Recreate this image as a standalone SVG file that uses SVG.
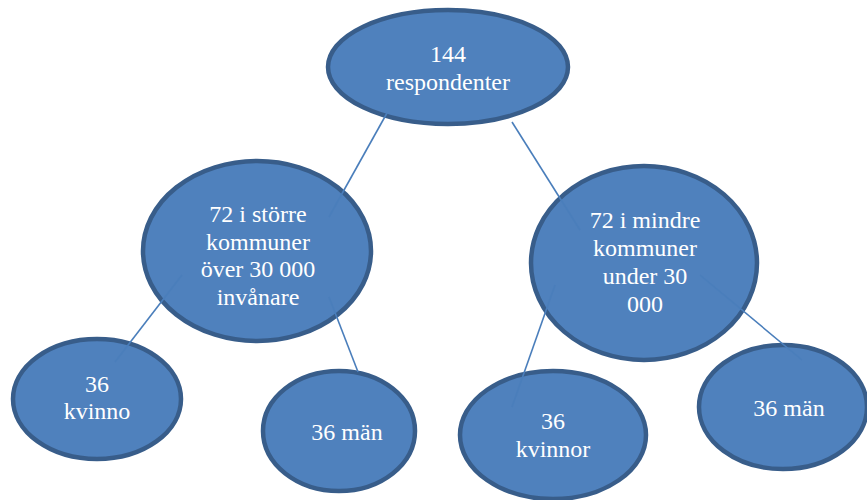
<svg xmlns="http://www.w3.org/2000/svg" width="867" height="500" viewBox="0 0 867 500">
<defs>
<style>
ellipse{fill:#4f81bd;stroke:#385d8a;stroke-width:4.5}
line{stroke:#4a7ebb;stroke-width:1.6}
</style>
</defs>
<rect width="867" height="500" fill="#ffffff"/>
<g fill="#ffffff" text-anchor="middle">
<g id="n-top"><ellipse cx="448" cy="67" rx="120" ry="57"/><text font-family="Liberation Serif" font-size="24" x="448" y="62">144</text><text font-family="Liberation Serif" font-size="24" x="448" y="90">respondenter</text></g>
<g id="n-large"><ellipse cx="257" cy="251" rx="114" ry="90"/><text font-family="Liberation Serif" font-size="24" x="258" y="222">72 i större</text><text font-family="Liberation Serif" font-size="24" x="258" y="250">kommuner</text><text font-family="Liberation Serif" font-size="24" x="258" y="277">över 30 000</text><text font-family="Liberation Serif" font-size="24" x="258" y="305">invånare</text></g>
<g id="n-small"><ellipse cx="644" cy="263" rx="113" ry="97"/><text font-family="Liberation Serif" font-size="24" x="645" y="228">72 i mindre</text><text font-family="Liberation Serif" font-size="24" x="645" y="256">kommuner</text><text font-family="Liberation Serif" font-size="24" x="645" y="284">under 30</text><text font-family="Liberation Serif" font-size="24" x="645" y="312">000</text></g>
<g id="n-kvinno"><ellipse cx="97" cy="399" rx="84" ry="60"/><text font-family="Liberation Serif" font-size="24" x="97" y="392">36</text><text font-family="Liberation Serif" font-size="24" x="97" y="419">kvinno</text></g>
<g id="n-man1"><ellipse cx="339" cy="431" rx="76" ry="60"/><text font-family="Liberation Serif" font-size="24" x="347" y="440">36 män</text></g>
<g id="n-kvinnor"><ellipse cx="553" cy="435" rx="93" ry="64"/><text font-family="Liberation Serif" font-size="24" x="553" y="429">36</text><text font-family="Liberation Serif" font-size="24" x="553" y="457">kvinnor</text></g>
<g id="n-man2"><ellipse cx="783" cy="407" rx="84" ry="62"/><text font-family="Liberation Serif" font-size="24" x="789" y="416">36 män</text></g>
</g>
<g id="connectors">
<line x1="387" y1="113" x2="329" y2="217"/>
<line x1="512" y1="122" x2="580" y2="230"/>
<line x1="182" y1="275" x2="115" y2="362"/>
<line x1="329" y1="297" x2="358" y2="372"/>
<line x1="555" y1="285" x2="512" y2="407"/>
<line x1="700" y1="275" x2="802" y2="360"/>
</g>
</svg>
